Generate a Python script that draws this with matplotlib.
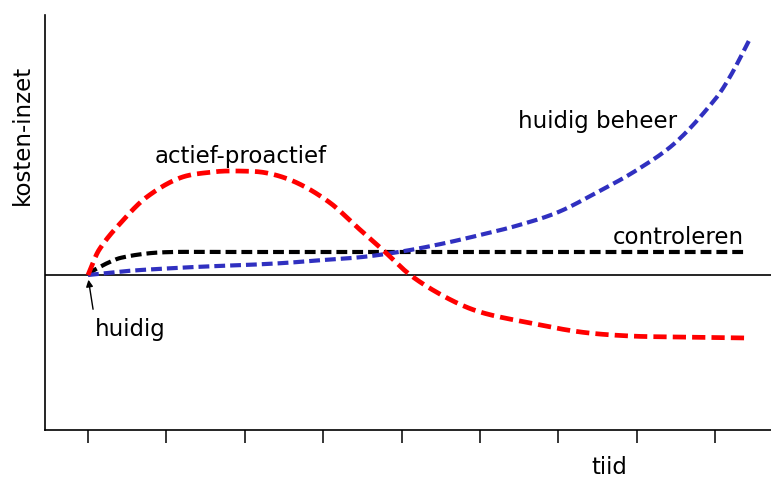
import numpy as np
from matplotlib import pyplot as plt

# time axis in tick units (tick 0 = start "huidig"), cost in arbitrary units
red_x = [0, 0.14, 0.45, 0.75, 1.17, 1.59, 1.90, 2.28, 2.67, 3.09, 3.43, 3.72, 4.11,
         4.58, 5.0, 5.64, 6.28, 6.91, 7.55, 8.41]
red_y = [0, 0.25, 0.55, 0.78, 0.97, 1.03, 1.04, 1.02, 0.92, 0.72, 0.48, 0.28, 0.0,
         -0.23, -0.37, -0.48, -0.57, -0.61, -0.62, -0.63]

black_x = [0, 0.05, 0.15, 0.25, 0.41, 0.75, 1.08, 1.5, 2, 3, 4, 5, 6, 7, 8, 8.41]
black_y = [0, 0.035, 0.08, 0.12, 0.17, 0.215, 0.23, 0.23, 0.23, 0.23, 0.23, 0.23,
           0.23, 0.23, 0.23, 0.23]

blue_x = [0, 0.5, 1, 1.5, 2, 2.5, 3, 3.5, 4, 4.5, 5, 5.5, 6, 6.5, 7, 7.5, 8, 8.2, 8.44]
blue_y = [0, 0.04, 0.065, 0.085, 0.10, 0.12, 0.15, 0.18, 0.235, 0.31, 0.40, 0.50,
          0.63, 0.83, 1.05, 1.33, 1.76, 2.0, 2.36]

ticks = list(range(9))


def smooth(xs, ys, n=20):
    # cubic hermite through the read points, only for drawing
    x = np.asarray(xs, float)
    y = np.asarray(ys, float)
    m = np.empty_like(y)
    m[1:-1] = (y[2:] - y[:-2]) / (x[2:] - x[:-2])
    m[0] = (y[1] - y[0]) / (x[1] - x[0])
    m[-1] = (y[-1] - y[-2]) / (x[-1] - x[-2])
    px, py = [], []
    for i in range(len(x) - 1):
        h = x[i + 1] - x[i]
        t = np.linspace(0, 1, n, endpoint=False)
        h00 = 2 * t**3 - 3 * t**2 + 1
        h10 = t**3 - 2 * t**2 + t
        h01 = -2 * t**3 + 3 * t**2
        h11 = t**3 - t**2
        px.append(x[i] + h * t)
        py.append(h00 * y[i] + h10 * h * m[i] + h01 * y[i + 1] + h11 * h * m[i + 1])
    px.append([x[-1]])
    py.append([y[-1]])
    return np.concatenate(px), np.concatenate(py)


fig = plt.figure(figsize=(7.71, 4.79), dpi=100)
ax = fig.add_axes([0.0584, 0.1023, 0.9416, 0.8664])

ax.axhline(0, color='black', lw=1.2)

ax.plot(*smooth(black_x, black_y), color='black', lw=3, dashes=(2.6, 1.2))
ax.plot(*smooth(blue_x, blue_y), color='#3030c0', lw=3, dashes=(2.6, 1.2))
ax.plot(*smooth(red_x, red_y), color='#ff0000', lw=3.4, dashes=(2.8, 1.3))

ax.set_xlim(-0.548, 8.71)
ax.set_ylim(-1.55, 2.60)
ax.set_xticks(ticks)
ax.set_xticklabels([])
ax.set_yticks([])
ax.tick_params(axis='x', direction='out', length=9.5, width=1.1)
for s in ['top', 'right']:
    ax.spines[s].set_visible(False)
for s in ['left', 'bottom']:
    ax.spines[s].set_linewidth(1.2)

fs = 16.5
ax.text(0.09, -0.55, 'huidig', fontsize=fs, ha='left', va='center')
ax.annotate('', xy=(0, -0.02), xytext=(0.07, -0.37),
            arrowprops=dict(arrowstyle='-|>', color='black', lw=1, mutation_scale=10))
ax.text(1.95, 1.18, 'actief-proactief', fontsize=fs, ha='center', va='center')
ax.text(6.5, 1.53, 'huidig beheer', fontsize=fs, ha='center', va='center')
ax.text(7.53, 0.37, 'controleren', fontsize=fs, ha='center', va='center')

fig.text(609 / 771, 1 - 468 / 479, 'tiid', fontsize=fs, ha='center', va='center')
fig.text(22 / 771, 1 - 135 / 479, 'kosten-inzet', fontsize=fs, ha='center', va='center',
         rotation=90)

plt.savefig('out.png', dpi=100)
